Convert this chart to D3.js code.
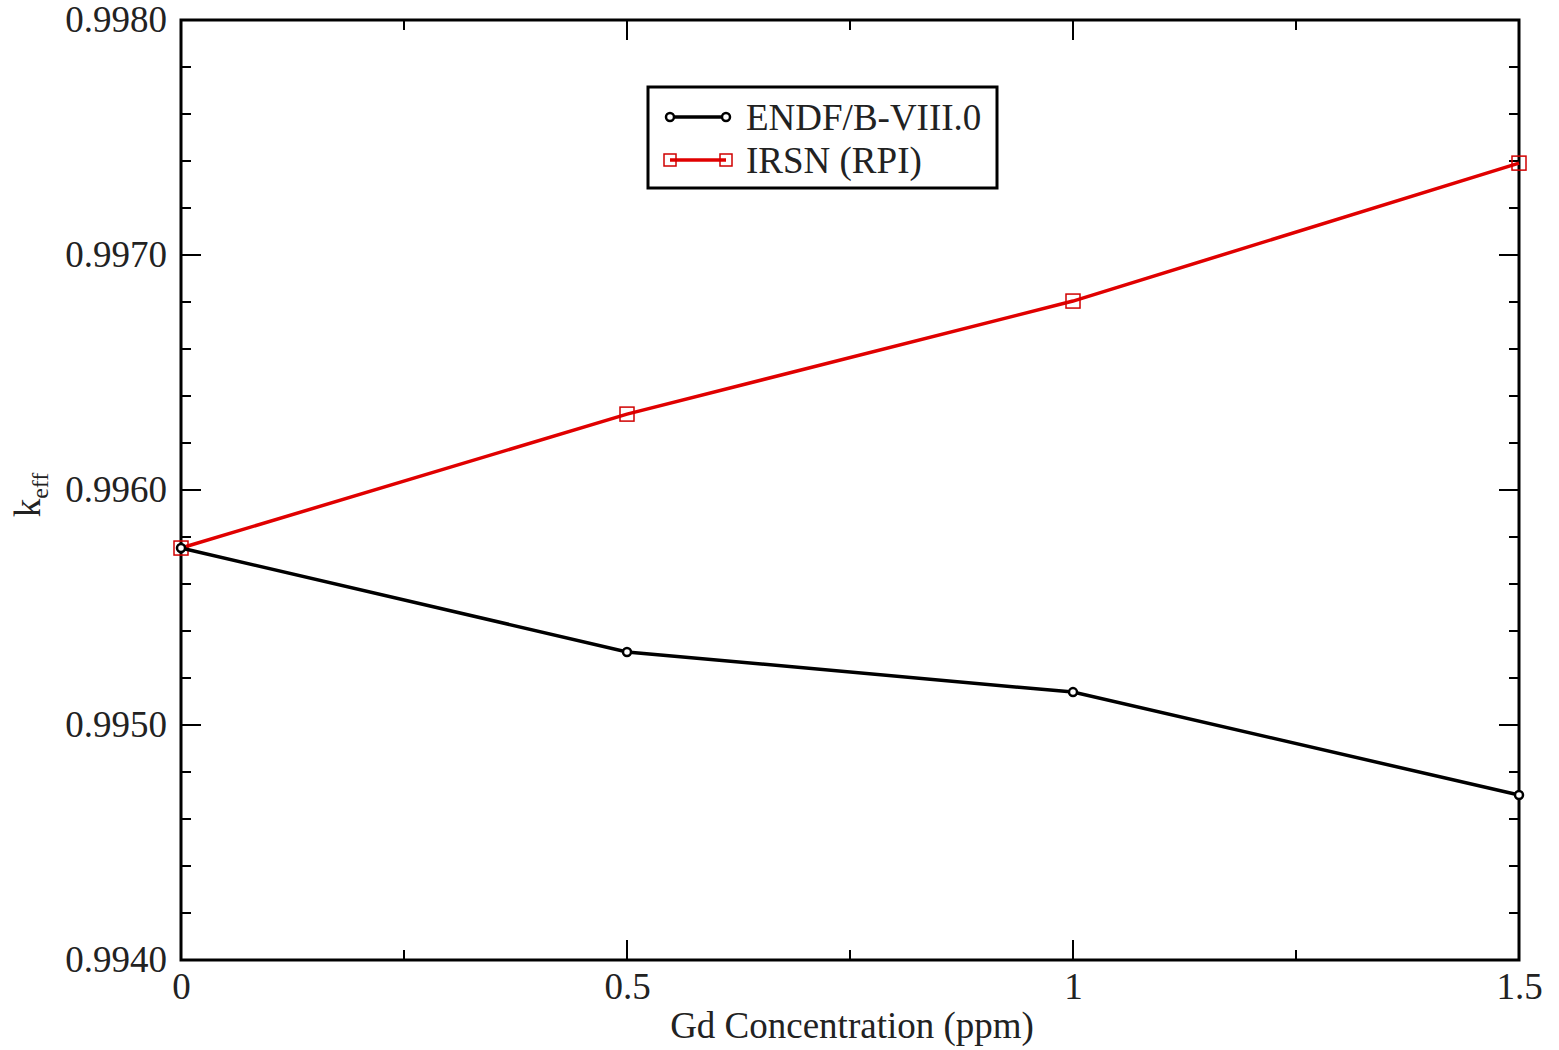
<!DOCTYPE html>
<html><head><meta charset="utf-8">
<script src="https://cdn.jsdelivr.net/npm/d3@7"></script>
<style>body{margin:0;background:#fff}svg{display:block}text{font-family:"Liberation Serif","Times New Roman",serif;fill:#222}</style>
</head><body>
<svg id="c" width="1559" height="1050"></svg>
<script>
const concentrations = [0, 0.5, 1, 1.5];
const endfValues = [0.995753, 0.995311, 0.995140, 0.994702];
const irsnValues = [0.995753, 0.996323, 0.996804, 0.997391];
const xTicks = [0, 0.5, 1, 1.5];
const yTicks = [0.994, 0.995, 0.996, 0.997, 0.998];
const seriesNames = ["ENDF/B-VIII.0", "IRSN (RPI)"];

const svg = d3.select("#c");
const L = 181, R = 1519, T = 20, B = 960;
const x = d3.scaleLinear().domain([0, 1.5]).range([L, R]);
const y = d3.scaleLinear().domain([0.994, 0.998]).range([B, T]);
const fs = 37;

// minor ticks (inward) on all four sides
const xMinor = d3.range(0, 1.5001, 0.25);
const yMinor = d3.range(0.994, 0.99801, 0.0002);
const g = svg.append("g").attr("stroke", "#000").attr("stroke-width", 2);
xMinor.forEach(v => {
  const major = Math.abs(v * 2 - Math.round(v * 2)) < 1e-6;
  const len = major ? 20 : 10;
  g.append("line").attr("x1", x(v)).attr("x2", x(v)).attr("y1", B).attr("y2", B - len);
  g.append("line").attr("x1", x(v)).attr("x2", x(v)).attr("y1", T).attr("y2", T + len);
});
yMinor.forEach(v => {
  const major = Math.abs(v * 1000 - Math.round(v * 1000)) < 1e-6;
  const len = major ? 20 : 10;
  g.append("line").attr("y1", y(v)).attr("y2", y(v)).attr("x1", L).attr("x2", L + len);
  g.append("line").attr("y1", y(v)).attr("y2", y(v)).attr("x1", R).attr("x2", R - len);
});

// axes labels via d3 axes (ticks hidden)
const xAxis = svg.append("g").attr("transform", `translate(0,${B})`)
  .call(d3.axisBottom(x).tickValues(xTicks).tickSize(0).tickPadding(13).tickFormat(d => String(d)));
xAxis.select(".domain").remove();
xAxis.selectAll("text").attr("font-size", fs).attr("font-family", "Liberation Serif").attr("fill", "#222");
const yAxis = svg.append("g").attr("transform", `translate(${L},0)`)
  .call(d3.axisLeft(y).tickValues(yTicks).tickSize(0).tickPadding(14).tickFormat(d3.format(".4f")));
yAxis.select(".domain").remove();
yAxis.selectAll("text").attr("font-size", fs).attr("font-family", "Liberation Serif").attr("fill", "#222");

// frame
svg.append("rect").attr("x", L).attr("y", T).attr("width", R - L).attr("height", B - T)
  .attr("fill", "none").attr("stroke", "#000").attr("stroke-width", 3);

// axis titles
svg.append("text").attr("x", 852).attr("y", 1038).attr("text-anchor", "middle")
  .attr("font-size", fs).text("Gd Concentration (ppm)");
const yt = svg.append("text").attr("transform", "translate(40,495) rotate(-90)").attr("text-anchor", "middle").attr("font-size", fs);
yt.append("tspan").text("k");
yt.append("tspan").attr("font-size", 24).attr("dy", 8).text("eff");

const line = d3.line().x((d, i) => x(concentrations[i])).y(d => y(d));
// red series
svg.append("path").datum(irsnValues).attr("d", line).attr("fill", "none").attr("stroke", "#e00000").attr("stroke-width", 3.5);
svg.selectAll(".sq").data(irsnValues).enter().append("rect")
  .attr("x", (d, i) => x(concentrations[i]) - 7).attr("y", d => y(d) - 7).attr("width", 14).attr("height", 14)
  .attr("fill", "none").attr("stroke", "#d00000").attr("stroke-width", 1.5);
// black series
svg.append("path").datum(endfValues).attr("d", line).attr("fill", "none").attr("stroke", "#000").attr("stroke-width", 3.5);
svg.selectAll(".ci").data(endfValues).enter().append("circle")
  .attr("cx", (d, i) => x(concentrations[i])).attr("cy", d => y(d)).attr("r", 4)
  .attr("fill", "#fff").attr("stroke", "#000").attr("stroke-width", 2.5);

// legend
const lg = svg.append("g");
lg.append("rect").attr("x", 648).attr("y", 87).attr("width", 349).attr("height", 101)
  .attr("fill", "#fff").attr("stroke", "#000").attr("stroke-width", 3);
const legendRows = [
  {name: seriesNames[0], color: "#000", y: 117, marker: "circle"},
  {name: seriesNames[1], color: "#e00000", y: 160, marker: "square"}
];
legendRows.forEach(r => {
  lg.append("line").attr("x1", 670).attr("x2", 726).attr("y1", r.y).attr("y2", r.y).attr("stroke", r.color).attr("stroke-width", 3.5);
  [670, 726].forEach(px => {
    if (r.marker === "circle") {
      lg.append("circle").attr("cx", px).attr("cy", r.y).attr("r", 4).attr("fill", "#fff").attr("stroke", "#000").attr("stroke-width", 2.5);
    } else {
      lg.append("rect").attr("x", px - 6).attr("y", r.y - 6).attr("width", 12).attr("height", 12).attr("fill", "none").attr("stroke", "#d00000").attr("stroke-width", 1.5);
    }
  });
  lg.append("text").attr("x", 746).attr("y", r.y + 13).attr("font-size", fs).text(r.name);
});
</script>
</body></html>
